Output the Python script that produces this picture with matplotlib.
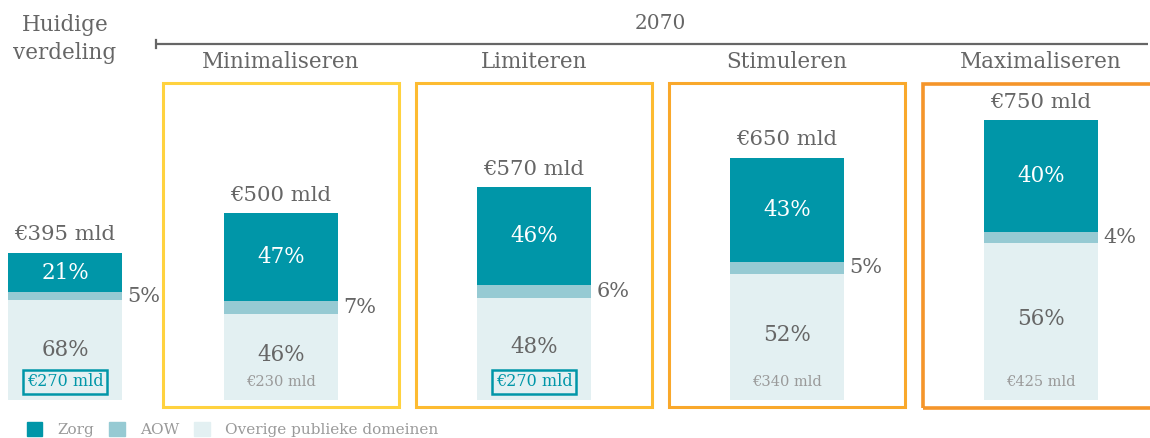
import matplotlib.pyplot as plt
from matplotlib.patches import Rectangle, Patch

# data
scenarios = ["Huidige\nverdeling", "Minimaliseren", "Limiteren", "Stimuleren", "Maximaliseren"]
totals = [395, 500, 570, 650, 750]          # € mld
zorg_pct = [21, 47, 46, 43, 40]
aow_pct = [5, 7, 6, 5, 4]
overige_pct = [68, 46, 48, 52, 56]
overige_amount = ["€270 mld", "€230 mld", "€270 mld", "€340 mld", "€425 mld"]
amount_boxed = [True, False, True, False, False]
legend_labels = ["Zorg", "AOW", "Overige publieke domeinen"]

# style / layout
ZORG = "#0096a8"
AOW = "#96cad3"
OVERIGE = "#e3f0f2"
GREY = "#666666"
LIGHT = "#9a9a9a"
box_colors = ["#ffd23f", "#fdbb31", "#f9a82b", "#f5952a"]
centers = [65, 281, 534, 787, 1041]
bar_w = 114
SCALE = 0.373   # px per € mld
BASE = 400      # px of zero line

plt.rcParams['font.family'] = ['DejaVu Serif']

fig = plt.figure(figsize=(11.5, 4.38), dpi=100)
ax = fig.add_axes([0, 0, 1, 1])


def yd(p):
    return (BASE - p) / SCALE


ax.set_xlim(0, 1150)
ax.set_ylim(yd(438), yd(0))
ax.axis('off')

for i, c in enumerate(centers):
    tot = totals[i]
    ov = tot * overige_pct[i] / 100
    ao = tot * aow_pct[i] / 100
    zo = tot - ov - ao
    ax.bar(c, ov, width=bar_w, color=OVERIGE)
    ax.bar(c, ao, width=bar_w, bottom=ov, color=AOW)
    ax.bar(c, zo, width=bar_w, bottom=ov + ao, color=ZORG)

    ax.annotate(f"€{tot} mld", (c, tot), xytext=(0, 13), textcoords='offset points',
                ha='center', va='center', fontsize=15.3, color=GREY)
    ax.text(c, ov + ao + zo / 2, f"{zorg_pct[i]}%", ha='center', va='center',
            fontsize=15.5, color='white')
    ax.annotate(f"{aow_pct[i]}%", (c + bar_w / 2, ov + ao / 2), xytext=(4, 0),
                textcoords='offset points', ha='left', va='center', fontsize=15, color=GREY)
    ax.text(c, ov / 2 + (6 if i else 0), f"{overige_pct[i]}%", ha='center', va='center',
            fontsize=15.5, color=GREY)
    if amount_boxed[i]:
        ax.annotate(overige_amount[i], (c, 0), xytext=(0, 13), textcoords='offset points',
                    ha='center', va='center', fontsize=11.5, color=ZORG,
                    bbox=dict(boxstyle='square,pad=0.2', fc='none', ec=ZORG, lw=1.8))
    else:
        ax.annotate(overige_amount[i], (c, 0), xytext=(0, 13), textcoords='offset points',
                    ha='center', va='center', fontsize=10.5, color=LIGHT)

# scenario frames
for j, c in enumerate(centers[1:]):
    lw = 2.2 if j < 3 else 2.6
    ax.add_patch(Rectangle((c - 118, yd(408 if j == 3 else 407)), 236, yd(84) - yd(408),
                           fill=False, ec=box_colors[j], lw=lw, clip_on=False))
    ax.text(c, yd(62), scenarios[j + 1], ha='center', va='center', fontsize=15.5, color=GREY)

ax.text(centers[0], yd(39), scenarios[0], ha='center', va='center', fontsize=15.5,
        color=GREY, linespacing=1.3)

# 2070 header
ax.plot([156, 1148], [yd(44), yd(44)], color=GREY, lw=1.6, solid_capstyle='butt')
ax.plot([156, 156], [yd(40), yd(48)], color=GREY, lw=1.6)
ax.text(660, yd(24), "2070", ha='center', va='center', fontsize=14.5, color=GREY)

handles = [Patch(color=ZORG), Patch(color=AOW), Patch(color=OVERIGE)]
ax.legend(handles, legend_labels, ncol=3, frameon=False, loc='lower left',
          bbox_to_anchor=(0.018, -0.012), fontsize=11, handlelength=1.0, handleheight=1.0,
          columnspacing=1.0, handletextpad=1.0, labelcolor=LIGHT, borderaxespad=0)

fig.savefig("out.png", dpi=100)
